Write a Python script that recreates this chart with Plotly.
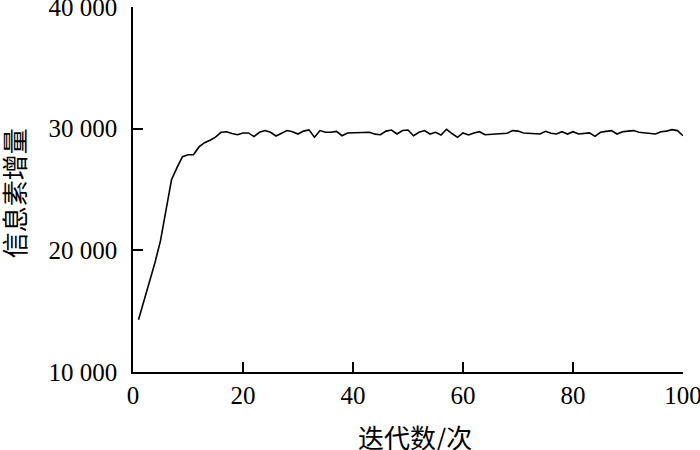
import plotly.graph_objects as go

iterations = list(range(1, 101))
pheromone = [
    14300, 15800, 17400, 19000, 20800, 23200, 25800, 26800, 27700, 27850,
    27850, 28500, 28850, 29050, 29300, 29700, 29750, 29600, 29500, 29650,
    29650, 29350, 29700, 29850, 29700, 29400, 29600, 29850, 29750, 29560,
    29800, 29900, 29300, 29840, 29700, 29700, 29780, 29420, 29650, 29650,
    29650, 29650, 29700, 29550, 29500, 29800, 29890, 29560, 29850, 29890,
    29420, 29700, 29840, 29560, 29700, 29480, 29950, 29600, 29290, 29650,
    29480, 29650, 29750, 29500, 29520, 29580, 29620, 29620, 29840, 29800,
    29650, 29620, 29580, 29560, 29780, 29620, 29560, 29750, 29560, 29750,
    29560, 29620, 29650, 29370, 29700, 29780, 29840, 29560, 29750, 29800,
    29840, 29700, 29650, 29600, 29560, 29750, 29800, 29920, 29840, 29420,
]

x_ticks = [0, 20, 40, 60, 80, 100]
y_ticks = [10000, 20000, 30000, 40000]
y_labels = ["10 000", "20 000", "30 000", "40 000"]
x_title = "迭代数/次"
y_title = "信息素增量"

serif = "Liberation Serif"
cjk = "Noto Sans CJK SC"

fig = go.Figure()
fig.add_trace(
    go.Scatter(
        x=iterations,
        y=pheromone,
        mode="lines",
        line=dict(color="black", width=1.6),
        showlegend=False,
        cliponaxis=False,
    )
)

axis_common = dict(
    showgrid=False,
    zeroline=False,
    showline=True,
    linecolor="black",
    linewidth=1.5,
    ticks="inside",
    ticklen=10,
    tickwidth=1.5,
    tickcolor="black",
    tickfont=dict(family=serif, size=25, color="black"),
    automargin=False,
    ticklabeloverflow="allow",
)

fig.update_xaxes(range=[0, 100], tickvals=x_ticks, **axis_common)
fig.update_yaxes(
    range=[10000, 40000],
    tickvals=y_ticks,
    ticktext=y_labels,
    ticklabelstandoff=9,
    **axis_common,
)

# axis titles as annotations so they sit where the original has them
title_font = dict(family=cjk, size=26, color="black")
fig.add_annotation(
    text=x_title, xref="paper", yref="paper", x=0.513, y=-0.178,
    xanchor="center", yanchor="middle", showarrow=False, font=title_font,
)
fig.add_annotation(
    text=y_title, xref="paper", yref="paper", x=-0.218, y=0.49,
    xanchor="center", yanchor="middle", showarrow=False, textangle=-90,
    font=title_font,
)

fig.update_layout(
    width=700,
    height=450,
    plot_bgcolor="white",
    paper_bgcolor="white",
    margin=dict(l=133, r=17, t=7, b=78, autoexpand=False),
)

# the page's default body margin would shift the chart by 8px
fig.write_html(
    "out.html",
    config={"displayModeBar": False},
    post_script="document.body.style.margin='0';",
)
